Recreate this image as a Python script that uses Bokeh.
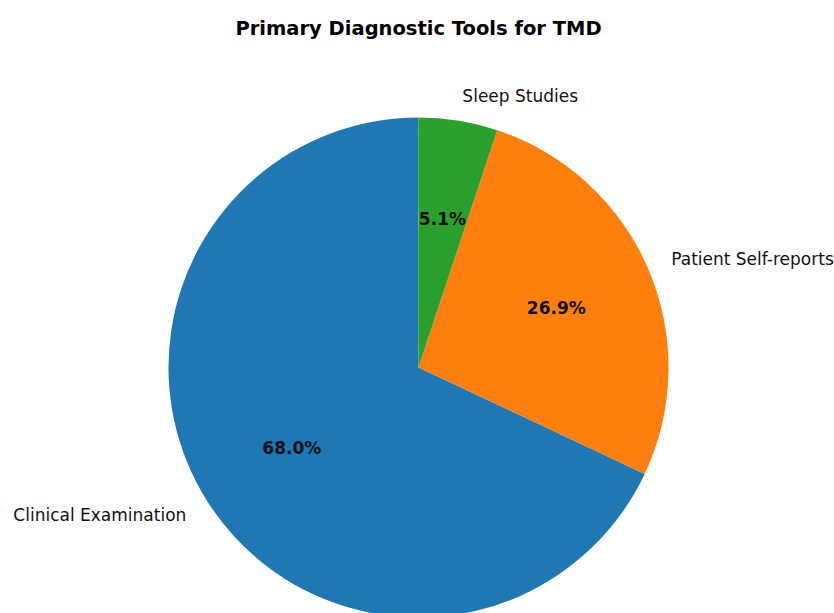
import numpy as np
from bokeh.plotting import figure
from bokeh.models import ColumnDataSource, Range1d
from bokeh.core.properties import value
from bokeh.embed import file_html
from bokeh.resources import INLINE

# Share of each primary diagnostic tool (percent)
categories = ["Clinical Examination", "Patient Self-reports", "Sleep Studies"]
shares = [68.0, 26.9, 5.1]
colors = ["#1f77b4", "#ff7f0e", "#2ca02c"]

# Wedges start at 12 o'clock and run counter-clockwise
vals = np.array(shares, dtype=float)
fracs = vals / vals.sum()
start_deg = 90.0
ends = start_deg + 360.0 * np.cumsum(fracs)
starts = np.concatenate([[start_deg], ends[:-1]])
mids = np.radians((starts + ends) / 2.0)

wedges = ColumnDataSource(dict(
    start=np.radians(starts), end=np.radians(ends), color=colors,
))

lab_x = 1.1 * np.cos(mids)
lab_y = 1.1 * np.sin(mids)
labels = ColumnDataSource(dict(
    x=lab_x, y=lab_y, text=categories,
    align=["left" if c > 0 else "right" for c in np.cos(mids)],
))
pct = ColumnDataSource(dict(
    x=0.6 * np.cos(mids), y=0.6 * np.sin(mids),
    text=[f"{100 * f:.1f}%" for f in fracs],
))

W, H = 834, 613
cx, cy, R = 418, 367, 250  # pie centre and radius in pixels
p = figure(width=W, height=H, output_backend="svg", toolbar_location=None,
           x_range=Range1d(-cx / R, (W - cx) / R),
           y_range=Range1d(-(H - cy) / R, cy / R),
           min_border=0)
p.axis.visible = False
p.grid.visible = False
p.outline_line_color = None
p.background_fill_color = "white"
p.border_fill_color = "white"

p.wedge(x=0, y=0, radius=1.0, start_angle="start", end_angle="end",
        direction="anticlock", fill_color="color", line_color=None,
        source=wedges)

p.text(x="x", y="y", text="text", text_align="align", text_baseline="middle",
       text_font=value("DejaVu Sans"), text_font_size="17px",
       text_color="#111111", source=labels)

p.text(x="x", y="y", text="text", text_align="center", text_baseline="middle",
       text_font=value("DejaVu Sans"), text_font_size="17px",
       text_font_style="bold", text_color="#111111", source=pct)

p.text(x=[0], y=[(cy - 28) / R], text=["Primary Diagnostic Tools for TMD"],
       text_align="center", text_baseline="middle",
       text_font=value("DejaVu Sans"), text_font_size="19.5px",
       text_font_style="bold", text_color="#000000")

open("out.html", "w").write(file_html(p, INLINE))
